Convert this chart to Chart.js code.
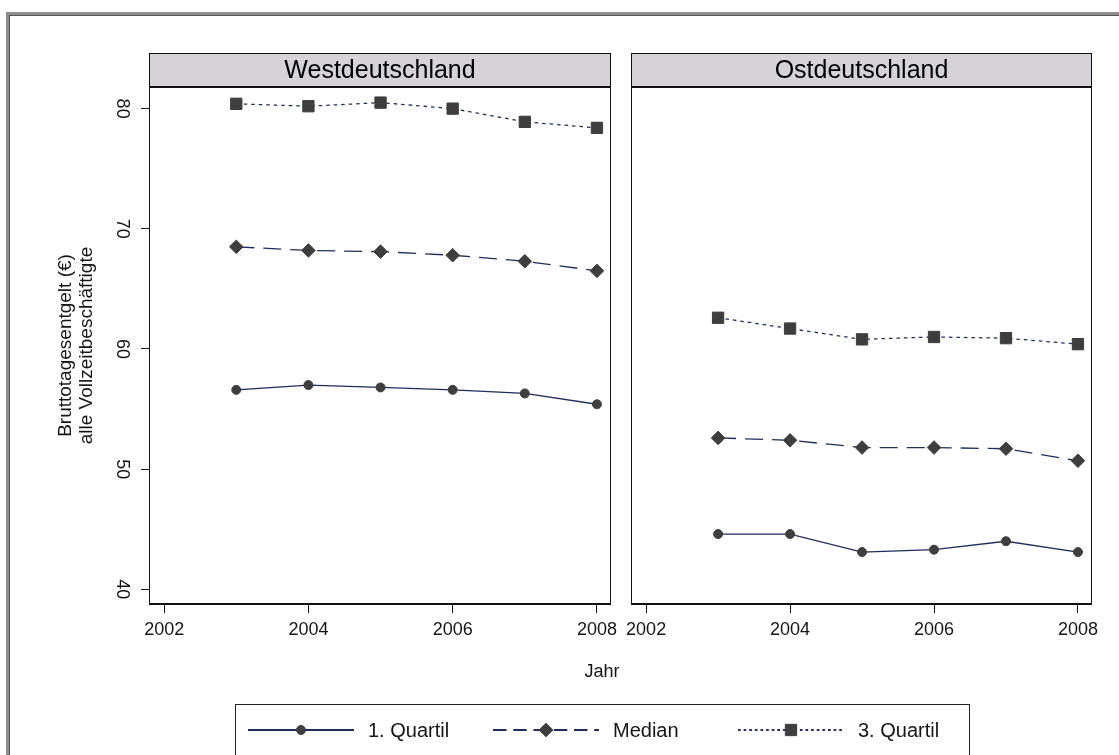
<!DOCTYPE html>
<html>
<head>
<meta charset="utf-8">
<script src="https://cdn.jsdelivr.net/npm/chart.js@4.4.1/dist/chart.umd.min.js"></script>
<style>
  html, body { margin: 0; padding: 0; background: #fff; }
  #wrap { position: relative; width: 1119px; height: 755px; overflow: hidden; background: #fff; }
  #frame { position: absolute; left: 6px; top: 12px; right: -10px; bottom: -10px;
           border-left: 3px solid #8e8e8e; border-top: 3px solid #8e8e8e;
           box-shadow: inset 1px 1px 0 #555; }
  canvas { position: absolute; left: 0; top: 0; }
</style>
</head>
<body>
<div id="wrap">
  <div id="frame"></div>
  <canvas id="west" width="1119" height="755"></canvas>
  <canvas id="east" width="1119" height="755"></canvas>
</div>
<script>
const years = [2003, 2004, 2005, 2006, 2007, 2008]
const xTicks = [2002, 2004, 2006, 2008]
const yTicks = [40, 50, 60, 70, 80]
const panelTitles = ['Westdeutschland', 'Ostdeutschland']
const seriesNames = ['1. Quartil', 'Median', '3. Quartil']
const yTitle = ['Bruttotagesentgelt (€)', 'alle Vollzeitbeschäftigte']
const xTitle = 'Jahr'

const westQ1  = [56.6, 57.0, 56.8, 56.6, 56.3, 55.4]
const westMed = [68.5, 68.2, 68.1, 67.8, 67.3, 66.5]
const westQ3  = [80.4, 80.2, 80.5, 80.0, 78.9, 78.4]

const eastQ1  = [44.6, 44.6, 43.1, 43.3, 44.0, 43.1]
const eastMed = [52.6, 52.4, 51.8, 51.8, 51.7, 50.7]
const eastQ3  = [62.6, 61.7, 60.8, 61.0, 60.9, 60.4]

const FONT = "'Liberation Sans', Arial, sans-serif"
const LINE_COLOR = '#1d2d5c'
const MARKER_COLOR = '#3e3e3e'
const TEXT_COLOR = '#151515'

// line pattern + marker for each series (1. Quartil, Median, 3. Quartil)
const styles = [
  { dash: [], point: 'circle', radius: 4.5 },
  { dash: [18, 9], point: 'rectRot', radius: 6.8 },
  { dash: [3.5, 4], point: 'rect', radius: 8 }
]

function toPoints(vals) {
  return years.map((yr, i) => ({ x: yr, y: vals[i] }))
}

function makeDatasets(series) {
  return series.map((vals, i) => ({
    label: seriesNames[i],
    data: toPoints(vals),
    borderColor: LINE_COLOR,
    borderWidth: 1.3,
    borderDash: styles[i].dash,
    pointStyle: styles[i].point,
    pointRadius: styles[i].radius,
    pointBackgroundColor: MARKER_COLOR,
    pointBorderColor: MARKER_COLOR,
    pointBorderWidth: 1,
    tension: 0,
    fill: false
  }))
}

// grey strip with the panel name plus the black box around the plot
const panelFrame = {
  id: 'panelFrame',
  afterDraw(chart, args, opts) {
    const { ctx, chartArea: a } = chart
    const stripTop = a.top - 34
    ctx.save()
    ctx.fillStyle = '#d5d3d7'
    ctx.fillRect(a.left, stripTop, a.right - a.left, a.top - stripTop)
    ctx.strokeStyle = '#111'
    ctx.lineWidth = 1
    ctx.strokeRect(a.left + 0.5, stripTop + 0.5, a.right - a.left - 1, a.top - stripTop)
    ctx.strokeRect(a.left + 0.5, a.top, a.right - a.left - 1, a.bottom - a.top)
    ctx.lineWidth = 2
    ctx.beginPath()
    ctx.moveTo(a.left, a.top); ctx.lineTo(a.right, a.top)
    ctx.moveTo(a.left, a.bottom); ctx.lineTo(a.right, a.bottom)
    ctx.stroke()
    ctx.fillStyle = '#000'
    ctx.font = '25px ' + FONT
    ctx.textAlign = 'center'
    ctx.textBaseline = 'middle'
    ctx.fillText(opts.title, (a.left + a.right) / 2, (stripTop + a.top) / 2 + 1)
    ctx.restore()
  }
}

function drawMarker(ctx, style, x, y) {
  const r = style.radius
  ctx.beginPath()
  if (style.point === 'circle') {
    ctx.arc(x, y, r, 0, Math.PI * 2)
  } else if (style.point === 'rectRot') {
    ctx.moveTo(x - r, y); ctx.lineTo(x, y - r); ctx.lineTo(x + r, y); ctx.lineTo(x, y + r)
    ctx.closePath()
  } else {
    const s = r * Math.SQRT1_2
    ctx.rect(x - s, y - s, 2 * s, 2 * s)
  }
  ctx.fillStyle = MARKER_COLOR
  ctx.strokeStyle = MARKER_COLOR
  ctx.lineWidth = 1
  ctx.setLineDash([])
  ctx.fill()
  ctx.stroke()
}

// shared x title and the boxed key under both panels
const bottomKey = {
  id: 'bottomKey',
  afterDraw(chart) {
    const { ctx } = chart
    ctx.save()
    ctx.fillStyle = TEXT_COLOR
    ctx.font = '18px ' + FONT
    ctx.textAlign = 'center'
    ctx.textBaseline = 'middle'
    ctx.fillText(xTitle, 602, 672)

    ctx.strokeStyle = '#222'
    ctx.lineWidth = 1
    ctx.strokeRect(235.5, 704.5, 734, 80)

    const rowY = 730
    seriesNames.forEach((name, i) => {
      const x0 = 248 + i * 245
      ctx.strokeStyle = LINE_COLOR
      ctx.lineWidth = 2
      ctx.setLineDash(styles[i].dash.map(d => d * 0.75))
      ctx.beginPath()
      ctx.moveTo(x0, rowY); ctx.lineTo(x0 + 106, rowY)
      ctx.stroke()
      drawMarker(ctx, styles[i], x0 + 53, rowY)
      ctx.fillStyle = TEXT_COLOR
      ctx.font = '20px ' + FONT
      ctx.textAlign = 'left'
      ctx.fillText(name, x0 + 120, rowY + 1)
    })
    ctx.restore()
  }
}

function makePanel(id, title, series, withYAxis, padding, extraPlugins) {
  return new Chart(document.getElementById(id), {
    type: 'line',
    data: { datasets: makeDatasets(series) },
    options: {
      responsive: false,
      animation: false,
      layout: { padding: padding },
      plugins: {
        legend: { display: false },
        tooltip: { enabled: false },
        panelFrame: { title: title }
      },
      scales: {
        x: {
          type: 'linear',
          min: 2001.79,
          max: 2008.195,
          afterBuildTicks: s => { s.ticks = xTicks.map(v => ({ value: v })) },
          afterFit: s => { s.height = 40 },
          border: { display: false },
          grid: { drawOnChartArea: false, drawTicks: true, tickLength: 9, tickColor: '#111', tickWidth: 1 },
          ticks: {
            maxRotation: 0,
            padding: 6,
            color: TEXT_COLOR,
            font: { family: FONT, size: 18 },
            callback: v => String(v)
          }
        },
        y: {
          display: withYAxis,
          min: 38.78,
          max: 81.8,
          afterBuildTicks: s => { s.ticks = yTicks.map(v => ({ value: v })) },
          afterFit: s => { s.width = withYAxis ? 149 : 0 },
          border: { display: false },
          grid: { drawOnChartArea: false, drawTicks: true, tickLength: 8, tickColor: '#111', tickWidth: 1 },
          ticks: {
            minRotation: -90,
            maxRotation: -90,
            crossAlign: 'center',
            padding: 9,
            color: TEXT_COLOR,
            font: { family: FONT, size: 18 },
            callback: v => String(v)
          },
          title: {
            display: true,
            text: yTitle,
            color: TEXT_COLOR,
            font: { family: FONT, size: 19, lineHeight: 1.08 },
            padding: { top: 56, bottom: 0 }
          }
        }
      }
    },
    plugins: [panelFrame].concat(extraPlugins)
  })
}

makePanel('west', panelTitles[0], [westQ1, westMed, westQ3], true,
  { left: 0, right: 508, top: 87, bottom: 111 }, [bottomKey])
makePanel('east', panelTitles[1], [eastQ1, eastMed, eastQ3], false,
  { left: 631, right: 27, top: 87, bottom: 111 }, [])
</script>
</body>
</html>
